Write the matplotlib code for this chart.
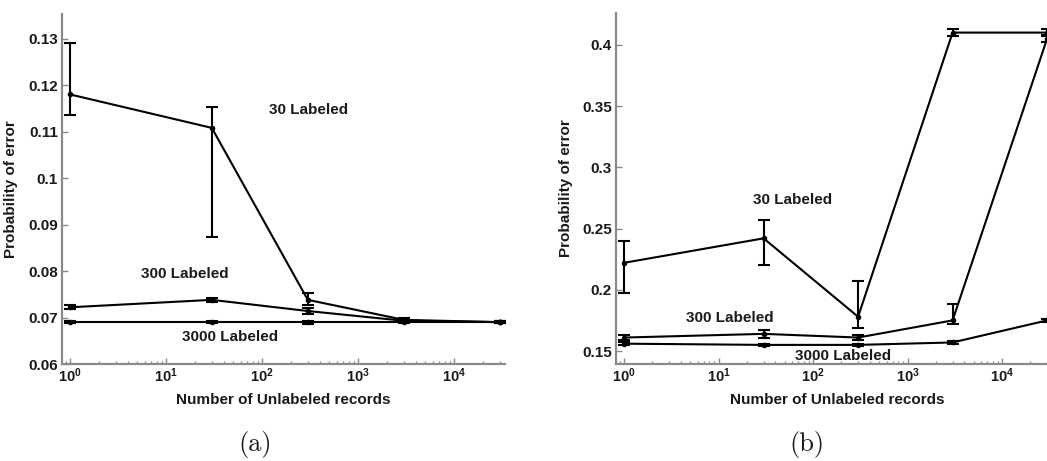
import matplotlib
matplotlib.use("Agg")
import matplotlib.pyplot as plt
import numpy as np
from matplotlib.ticker import LogLocator, FixedLocator, NullFormatter

# Bold sans for the exponent tick labels
plt.rcParams['mathtext.fontset'] = 'custom'
plt.rcParams['mathtext.rm'] = 'Liberation Sans:bold'
plt.rcParams['mathtext.bf'] = 'Liberation Sans:bold'
plt.rcParams['mathtext.it'] = 'Liberation Sans:bold'

# Number of unlabeled records
unlabeled = [1, 30, 300, 3000, 30000]

# ---- Panel (a) ----
a_30_mean = [0.1180, 0.1108, 0.0738, 0.0695, 0.0690]
a_30_low = [0.1135, 0.0873, 0.0726, 0.0692, 0.0688]
a_30_high = [0.1290, 0.1153, 0.0753, 0.0698, 0.0692]

a_300_mean = [0.0722, 0.0738, 0.0714, 0.0693, 0.0690]
a_300_low = [0.0718, 0.0734, 0.0707, 0.0691, 0.0688]
a_300_high = [0.0726, 0.0742, 0.0720, 0.0695, 0.0692]

a_3000_mean = [0.0690, 0.0690, 0.0690, 0.0690, 0.0690]
a_3000_low = [0.0688, 0.0688, 0.0687, 0.0688, 0.0688]
a_3000_high = [0.0692, 0.0692, 0.0693, 0.0692, 0.0692]

a_yticks = [0.06, 0.07, 0.08, 0.09, 0.10, 0.11, 0.12, 0.13]
a_yticklabels = ['0.06', '0.07', '0.08', '0.09', '0.1', '0.11', '0.12', '0.13']

# ---- Panel (b) ----
b_30_mean = [0.222, 0.242, 0.178, 0.410, 0.410]
b_30_low = [0.197, 0.220, 0.169, 0.407, 0.407]
b_30_high = [0.240, 0.257, 0.207, 0.413, 0.413]

b_300_mean = [0.161, 0.164, 0.161, 0.175, 0.405]
b_300_low = [0.159, 0.161, 0.159, 0.172, 0.402]
b_300_high = [0.163, 0.167, 0.163, 0.188, 0.408]

b_3000_mean = [0.156, 0.155, 0.155, 0.157, 0.175]
b_3000_low = [0.155, 0.154, 0.154, 0.156, 0.174]
b_3000_high = [0.157, 0.156, 0.156, 0.158, 0.176]

b_yticks = [0.15, 0.20, 0.25, 0.30, 0.35, 0.40]
b_yticklabels = ['0.15', '0.2', '0.25', '0.3', '0.35', '0.4']

xticks = [1, 10, 100, 1000, 10000]
xticklabels = [r'$10^{%d}$' % k for k in range(5)]

series_labels = ['30 Labeled', '300 Labeled', '3000 Labeled']

FONT = 'Liberation Sans'
TEXT_COLOR = '#1a1a1a'
SPINE_COLOR = '#8a8a8a'

fig = plt.figure(figsize=(10.47, 4.61), dpi=100)
W, H = 1047.0, 461.0


def px_axes(left, right, top, bottom):
    return fig.add_axes([left / W, 1 - bottom / H, (right - left) / W, (bottom - top) / H])


def draw_series(ax, mean, low, high):
    mean = np.asarray(mean)
    yerr = np.vstack([mean - np.asarray(low), np.asarray(high) - mean])
    ax.errorbar(unlabeled, mean, yerr=yerr, color='black', lw=1.5,
                marker='.', ms=6, capsize=4, capthick=1.5, elinewidth=1.5)


def style_axes(ax, yticks, yticklabels):
    ax.set_xscale('log')
    for s in ['top', 'right']:
        ax.spines[s].set_visible(False)
    for s in ['left', 'bottom']:
        ax.spines[s].set_color(SPINE_COLOR)
        ax.spines[s].set_linewidth(1.6)
    ax.xaxis.set_major_locator(FixedLocator(xticks))
    ax.set_xticklabels(xticklabels)
    ax.xaxis.set_minor_locator(LogLocator(base=10, subs=np.arange(2, 10)))
    ax.xaxis.set_minor_formatter(NullFormatter())
    ax.set_yticks(yticks)
    ax.set_yticklabels(yticklabels)
    ax.tick_params(axis='both', which='major', direction='in', length=4,
                   width=1.0, color=SPINE_COLOR, labelsize=11, labelcolor=TEXT_COLOR)
    ax.tick_params(axis='x', which='major', labelsize=10.5, pad=2)
    ax.tick_params(axis='y', which='major', pad=3)
    ax.tick_params(axis='x', which='minor', direction='in', length=2.5,
                   width=0.9, color=SPINE_COLOR)
    for lab in ax.get_yticklabels():
        lab.set_fontfamily(FONT)
        lab.set_fontweight('bold')
    ax.set_xlabel('Number of Unlabeled records', fontsize=11, fontfamily=FONT,
                  fontweight='bold', color=TEXT_COLOR)
    ax.xaxis.set_label_coords(0.5, -(399 - 364) / 351.0 - 0.0)
    ax.xaxis.label.set_va('center')
    ax.set_ylabel('Probability of error', fontsize=11, fontfamily=FONT,
                  fontweight='bold', color=TEXT_COLOR)


def label(ax, x, y, s):
    ax.text(x, y, s, fontsize=11, fontfamily=FONT, fontweight='bold',
            color=TEXT_COLOR, ha='center', va='center')


# Panel (a)
ax1 = px_axes(62, 505, 14, 364)
draw_series(ax1, a_30_mean, a_30_low, a_30_high)
draw_series(ax1, a_300_mean, a_300_low, a_300_high)
draw_series(ax1, a_3000_mean, a_3000_low, a_3000_high)
style_axes(ax1, a_yticks, a_yticklabels)
ax1.set_xlim(10 ** (-8 / 96.0), 10 ** (435 / 96.0))
ax1.set_ylim(0.06, 0.1353)
label(ax1, 10 ** 2.49, 0.1146, series_labels[0])
label(ax1, 10 ** 1.2, 0.0794, series_labels[1])
label(ax1, 10 ** 1.67, 0.0658, series_labels[2])
ax1.yaxis.set_label_coords(-(62 - 18) / 443.0, 0.5)
ax1.xaxis.set_label_coords(0.5, -(400 - 364) / 350.0)

# Panel (b)
ax2 = px_axes(616, 1059, 13, 364)
draw_series(ax2, b_30_mean, b_30_low, b_30_high)
draw_series(ax2, b_300_mean, b_300_low, b_300_high)
draw_series(ax2, b_3000_mean, b_3000_low, b_3000_high)
style_axes(ax2, b_yticks, b_yticklabels)
ax2.set_xlim(10 ** (-8 / 94.5), 10 ** (435 / 94.5))
ax2.set_ylim(0.1394, 0.426)
label(ax2, 10 ** 1.78, 0.273, series_labels[0])
label(ax2, 10 ** 1.125, 0.177, series_labels[1])
label(ax2, 10 ** 2.32, 0.146, series_labels[2])
ax2.yaxis.set_label_coords(-(616 - 573) / 443.0, 0.5)
ax2.xaxis.set_label_coords(0.5, -(400 - 364) / 351.0)

# Sub-figure captions
fig.text(255 / W, 1 - 444 / H, '(a)', fontsize=19, fontfamily='cmr10',
         ha='center', va='center', color=TEXT_COLOR)
fig.text(807 / W, 1 - 444 / H, '(b)', fontsize=19, fontfamily='cmr10',
         ha='center', va='center', color=TEXT_COLOR)

fig.savefig('out.png', dpi=100)
